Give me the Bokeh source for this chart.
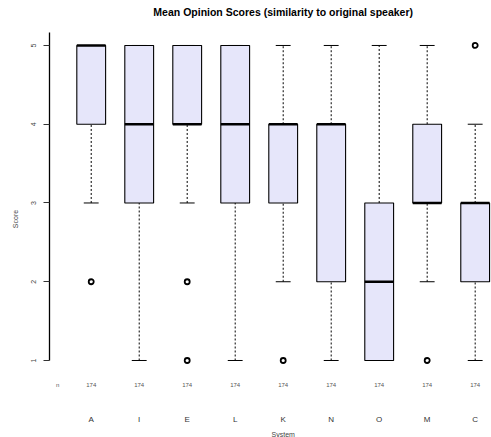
from bokeh.plotting import figure
from bokeh.models import Range1d, FixedTicker
from bokeh.core.properties import value
from bokeh.embed import file_html
from bokeh.resources import INLINE

# Box-plot summaries of the opinion scores per system
systems = ["A", "I", "E", "L", "K", "N", "O", "M", "C"]
q1 = [4, 3, 4, 3, 3, 2, 1, 3, 2]
medians = [5, 4, 4, 4, 4, 4, 2, 3, 3]
q3 = [5, 5, 5, 5, 4, 4, 3, 4, 3]
whisker_low = [3, 1, 3, 1, 2, 1, 1, 2, 1]
whisker_high = [5, 5, 5, 5, 5, 5, 5, 5, 4]
counts = [174, 174, 174, 174, 174, 174, 174, 174, 174]

# Individual outlying scores
outlier_system = ["A", "E", "E", "K", "M", "C"]
outlier_score = [2, 2, 1, 1, 1, 5]

score_ticks = [1, 2, 3, 4, 5]

FONT = "Liberation Sans"
BOX_W = 0.6
CAP_W = 0.31

# vertical placement of the text rows (in score units)
TITLE_Y = 5.42
COUNT_Y = 0.695
LETTER_Y = 0.25
XLABEL_Y = 0.065

pos = list(range(1, len(systems) + 1))
index = {s: i for s, i in zip(systems, pos)}

p = figure(width=491, height=437, output_backend="svg", toolbar_location=None,
           x_range=Range1d(0.131, 9.34), y_range=Range1d(0.0222, 5.571),
           x_axis_location=None,
           min_border_left=49, min_border_right=0, min_border_top=0,
           min_border_bottom=0)
p.outline_line_color = None
p.grid.visible = False
p.background_fill_color = "white"
p.border_fill_color = "white"

# y axis
ya = p.yaxis[0]
ya.ticker = FixedTicker(ticks=score_ticks)
ya.bounds = (1, 5.165)
ya.axis_line_color = "black"
ya.axis_line_width = 1.3
ya.major_tick_in = 0
ya.major_tick_out = 6
ya.major_tick_line_color = "#333333"
ya.minor_tick_line_color = None
ya.major_label_orientation = "vertical"
ya.major_label_text_font = FONT
ya.major_label_text_font_size = "7px"
ya.major_label_text_color = "#444444"
ya.major_label_standoff = 7
ya.axis_label = "Score"
ya.axis_label_text_font = FONT
ya.axis_label_text_font_style = "normal"
ya.axis_label_text_font_size = "7px"
ya.axis_label_text_color = "#444444"
ya.axis_label_standoff = 10

# whiskers
p.segment(x0=pos, y0=whisker_low, x1=pos, y1=q1, line_color="black",
          line_width=1, line_dash="2 2")
p.segment(x0=pos, y0=q3, x1=pos, y1=whisker_high, line_color="black",
          line_width=1, line_dash="2 2")
# staples
p.segment(x0=[x - CAP_W / 2 for x in pos], y0=whisker_low,
          x1=[x + CAP_W / 2 for x in pos], y1=whisker_low,
          line_color="black", line_width=1)
p.segment(x0=[x - CAP_W / 2 for x in pos], y0=whisker_high,
          x1=[x + CAP_W / 2 for x in pos], y1=whisker_high,
          line_color="black", line_width=1)
# boxes
p.quad(left=[x - BOX_W / 2 for x in pos], right=[x + BOX_W / 2 for x in pos],
       bottom=q1, top=q3, fill_color="#E6E6FA", line_color="black",
       line_width=1.1)
# medians
p.segment(x0=[x - BOX_W / 2 for x in pos], y0=medians,
          x1=[x + BOX_W / 2 for x in pos], y1=medians,
          line_color="black", line_width=2.6)
# outliers
p.scatter(x=[index[s] for s in outlier_system], y=outlier_score,
          marker="circle", size=5, fill_color=None, line_color="black",
          line_width=1.8)

# sample size row
p.text(x=[0.3], y=[COUNT_Y], text=["n"], text_font=value(FONT),
       text_font_size="6px", text_color="#555555", text_align="center",
       text_baseline="middle")
p.text(x=pos, y=[COUNT_Y] * len(pos), text=[str(c) for c in counts],
       text_font=value(FONT), text_font_size="6px", text_color="#555555",
       text_align="center", text_baseline="middle")

# system names
p.text(x=pos, y=[LETTER_Y] * len(pos), text=systems, text_font=value(FONT),
       text_font_size="8px", text_color="#333333", text_align="center",
       text_baseline="middle")

# title and x label, centred over the middle system
mid = (pos[0] + pos[-1]) / 2
p.text(x=[mid], y=[TITLE_Y],
       text=["Mean Opinion Scores (similarity to original speaker)"],
       text_font=value(FONT), text_font_size="10.5px", text_font_style="bold",
       text_color="black", text_align="center", text_baseline="middle")
p.text(x=[mid], y=[XLABEL_Y], text=["System"], text_font=value(FONT),
       text_font_size="7px", text_color="#444444", text_align="center",
       text_baseline="middle")

open("out.html", "w").write(file_html(p, INLINE))
